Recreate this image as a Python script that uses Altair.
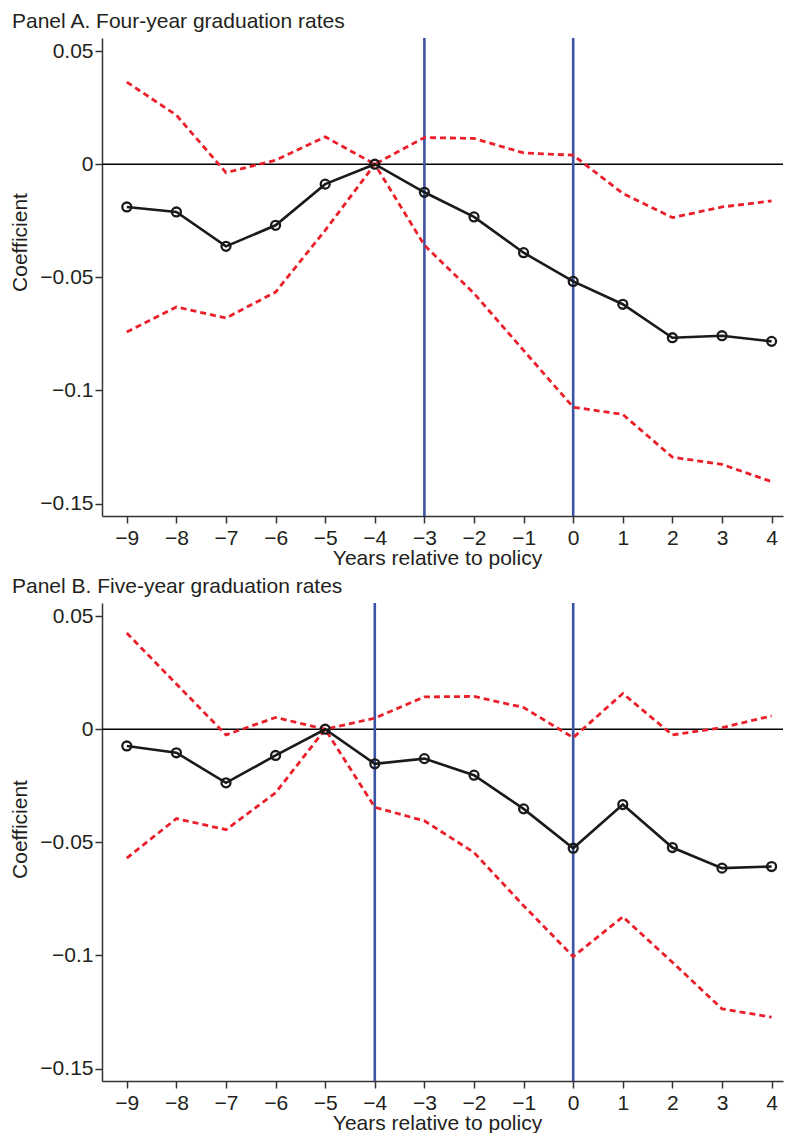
import altair as alt
import pandas as pd

years = [-9, -8, -7, -6, -5, -4, -3, -2, -1, 0, 1, 2, 3, 4]

a_coef = [-0.0189, -0.0211, -0.0363, -0.0270, -0.0088, 0.0, -0.0124, -0.0233, -0.0391, -0.0518, -0.0619, -0.0767, -0.0758, -0.0783]
a_upper = [0.0363, 0.0217, -0.0037, 0.0018, 0.0121, 0.0, 0.0118, 0.0114, 0.0050, 0.0040, -0.0129, -0.0236, -0.0189, -0.0162]
a_lower = [-0.0742, -0.0631, -0.0680, -0.0565, -0.0292, 0.0, -0.0358, -0.0571, -0.0823, -0.1074, -0.1106, -0.1295, -0.1327, -0.1403]

b_coef = [-0.0074, -0.0104, -0.0237, -0.0116, 0.0, -0.0153, -0.0130, -0.0203, -0.0352, -0.0526, -0.0333, -0.0523, -0.0614, -0.0607]
b_upper = [0.0425, 0.0200, -0.0025, 0.0052, 0.0, 0.0049, 0.0143, 0.0145, 0.0096, -0.0037, 0.0158, -0.0025, 0.0007, 0.0059]
b_lower = [-0.0570, -0.0395, -0.0444, -0.0281, 0.0, -0.0345, -0.0405, -0.0545, -0.0780, -0.1005, -0.0829, -0.1030, -0.1236, -0.1273]

a_policy_lines = [-3, 0]
b_policy_lines = [-4, 0]

y_ticks = [0.05, 0.0, -0.05, -0.1, -0.15]

panel_titles = ["Panel A. Four-year graduation rates", "Panel B. Five-year graduation rates"]
x_title = "Years relative to policy"
y_title = "Coefficient"

FONT = "Liberation Sans"
TXT = "#231f20"
RED = "#ea1f29"
BLUE = "#3b54a5"

X_DOMAIN = [-9.5, 4.23]
Y_DOMAIN = [-0.1555, 0.0558]
W = 681
H = 478


def panel(title, coef, upper, lower, vlines, ytitle_y):
    df = pd.DataFrame({"year": years, "coef": coef, "upper": upper, "lower": lower})
    xs = alt.Scale(domain=X_DOMAIN, nice=False, zero=False)
    ys = alt.Scale(domain=Y_DOMAIN, nice=False, zero=False)
    xax = alt.Axis(
        values=years,
        labelExpr="replace(toString(datum.value), '-', '\u2212')",
        title=x_title,
        titleX=335,
        titleY=42,
        titleBaseline="middle",
        titleAlign="center",
        labelPadding=4,
    )
    yax = alt.Axis(
        values=y_ticks,
        labelExpr="replace(toString(datum.value), '-', '\u2212')",
        title=y_title,
        titleAngle=270,
        titleX=-75.5,
        titleY=ytitle_y,
        titleBaseline="alphabetic",
        titleAlign="center",
        labelPadding=2,
    )
    base = alt.Chart(df)
    zero = alt.Chart(pd.DataFrame({"z": [0.0]})).mark_rule(color="#000000", strokeWidth=1.3).encode(
        y=alt.Y("z:Q", scale=ys)
    )
    vl = alt.Chart(pd.DataFrame({"v": vlines})).mark_rule(color=BLUE, strokeWidth=2.6).encode(
        x=alt.X("v:Q", scale=xs)
    )
    up = base.mark_line(color=RED, strokeWidth=2.8, strokeDash=[6, 4]).encode(
        x=alt.X("year:Q", scale=xs, axis=xax), y=alt.Y("upper:Q", scale=ys, axis=yax)
    )
    lo = base.mark_line(color=RED, strokeWidth=2.8, strokeDash=[6, 4]).encode(
        x=alt.X("year:Q", scale=xs), y=alt.Y("lower:Q", scale=ys)
    )
    ln = base.mark_line(color="#1a1a1a", strokeWidth=2.6).encode(
        x=alt.X("year:Q", scale=xs), y=alt.Y("coef:Q", scale=ys)
    )
    pts = base.mark_point(shape="circle", filled=False, size=80, strokeWidth=2.3, color="#1a1a1a", opacity=1).encode(
        x=alt.X("year:Q", scale=xs), y=alt.Y("coef:Q", scale=ys)
    )
    ttl = alt.Chart(pd.DataFrame({"t": [title]})).mark_text(
        align="left", baseline="alphabetic", fontSize=21, font=FONT, color=TXT
    ).encode(x=alt.value(-90), y=alt.value(-10), text="t:N")
    return alt.layer(zero, vl, up, lo, ln, pts, ttl).properties(width=W, height=H)


pa = panel(panel_titles[0], a_coef, a_upper, a_lower, a_policy_lines, 204)
pb = panel(panel_titles[1], b_coef, b_upper, b_lower, b_policy_lines, 226)

chart = alt.vconcat(pa, pb, spacing=8).properties(
    padding={"left": 1, "top": 3, "right": 0, "bottom": 0}
).configure_view(stroke=None).configure_axis(
    grid=False,
    domainColor="#333333",
    domainWidth=1.5,
    tickColor="#333333",
    tickWidth=1.5,
    tickSize=7,
    labelFont=FONT,
    labelFontSize=21,
    labelColor=TXT,
    titleFont=FONT,
    titleFontSize=21,
    titleColor=TXT,
    titleFontWeight="normal",
)

chart.save("out.html", embed_options={"renderer": "svg", "actions": False})
